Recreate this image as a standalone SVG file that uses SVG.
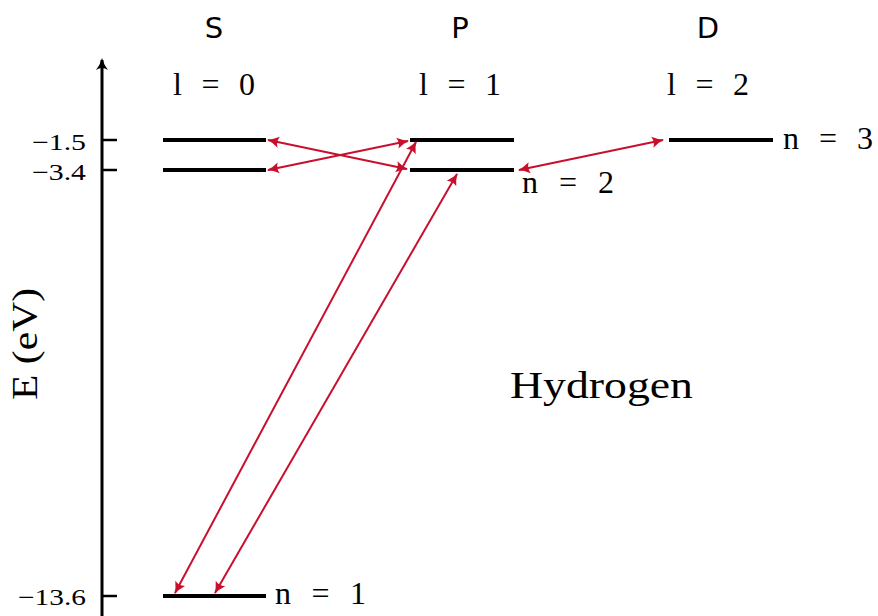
<svg xmlns="http://www.w3.org/2000/svg" width="878" height="616" viewBox="0 0 878 616">
<style>
.lvl{stroke:#000;stroke-width:4;fill:none}
.tick{stroke:#000;stroke-width:2.5;fill:none}
.tr{stroke:#c8102e;stroke-width:2;fill:none;marker-start:url(#rh);marker-end:url(#rh)}
.m{font-family:"Liberation Serif","DejaVu Serif",serif;fill:#000}
.sans{font-family:"DejaVu Sans","Liberation Sans",sans-serif;fill:#000}
</style>
<defs>
<marker id="rh" markerWidth="14" markerHeight="12" refX="12" refY="6" orient="auto-start-reverse" markerUnits="userSpaceOnUse" viewBox="0 0 14 12">
<path d="M13,6 Q7,4.5 1,0.5 Q4,6 1,11.5 Q7,7.5 13,6 Z" fill="#c8102e"/>
</marker>
<marker id="ah" markerWidth="16" markerHeight="14" refX="12" refY="7" orient="auto" markerUnits="userSpaceOnUse" viewBox="0 0 16 14">
<path d="M14,7 Q7,5 2,1 Q6,7 2,13 Q7,9 14,7 Z" fill="#000"/>
</marker>
</defs>
<g id="axis">
<line x1="102" y1="616" x2="102" y2="60" stroke="#000" stroke-width="3" marker-end="url(#ah)"/>
<line class="tick" x1="102" y1="140" x2="117" y2="140"/>
<line class="tick" x1="102" y1="170" x2="117" y2="170"/>
<line class="tick" x1="102" y1="596" x2="117" y2="596"/>
<text class="m" x="32" y="150" font-size="23" textLength="54" lengthAdjust="spacingAndGlyphs">−1.5</text>
<text class="m" x="32" y="180" font-size="23" textLength="54" lengthAdjust="spacingAndGlyphs">−3.4</text>
<text class="m" x="18" y="605" font-size="23" textLength="68" lengthAdjust="spacingAndGlyphs">−13.6</text>
<text class="m" transform="translate(37,344) rotate(-90)" font-size="36" text-anchor="middle" textLength="112" lengthAdjust="spacingAndGlyphs">E (eV)</text>
</g>
<g id="headers">
<text class="sans" x="214" y="38" font-size="29" text-anchor="middle">S</text>
<text class="sans" x="460" y="38" font-size="29" text-anchor="middle">P</text>
<text class="sans" x="708" y="38" font-size="29" text-anchor="middle">D</text>
<text class="m" x="173" y="95" font-size="32" textLength="82" lengthAdjust="spacing">l = 0</text>
<text class="m" x="419" y="95" font-size="32" textLength="82" lengthAdjust="spacing">l = 1</text>
<text class="m" x="667" y="95" font-size="32" textLength="82" lengthAdjust="spacing">l = 2</text>
</g>
<g id="level-3s"><line class="lvl" x1="163" y1="140" x2="266" y2="140"/></g>
<g id="level-2s"><line class="lvl" x1="163" y1="170" x2="266" y2="170"/></g>
<g id="level-1s"><line class="lvl" x1="163" y1="596" x2="266" y2="596"/>
<text class="m" x="275" y="604" font-size="32" textLength="91" lengthAdjust="spacing">n = 1</text></g>
<g id="level-3p"><line class="lvl" x1="410" y1="140" x2="514" y2="140"/></g>
<g id="level-2p"><line class="lvl" x1="410" y1="170" x2="514" y2="170"/>
<text class="m" x="522" y="193" font-size="32" textLength="92" lengthAdjust="spacing">n = 2</text></g>
<g id="level-3d"><line class="lvl" x1="669" y1="140" x2="773" y2="140"/>
<text class="m" x="783" y="149" font-size="32" textLength="90" lengthAdjust="spacing">n = 3</text></g>
<g id="label-hydrogen"><text class="m" x="510" y="398" font-size="38" textLength="183" lengthAdjust="spacingAndGlyphs">Hydrogen</text></g>
<g id="connectors">
<line class="tr" x1="268" y1="140" x2="407" y2="169"/>
<line class="tr" x1="268" y1="170" x2="408" y2="141"/>
<line class="tr" x1="519" y1="170" x2="663" y2="140"/>
<line class="tr" x1="416" y1="142" x2="175" y2="593"/>
<line class="tr" x1="457" y1="174" x2="215" y2="593"/>
</g>
</svg>
